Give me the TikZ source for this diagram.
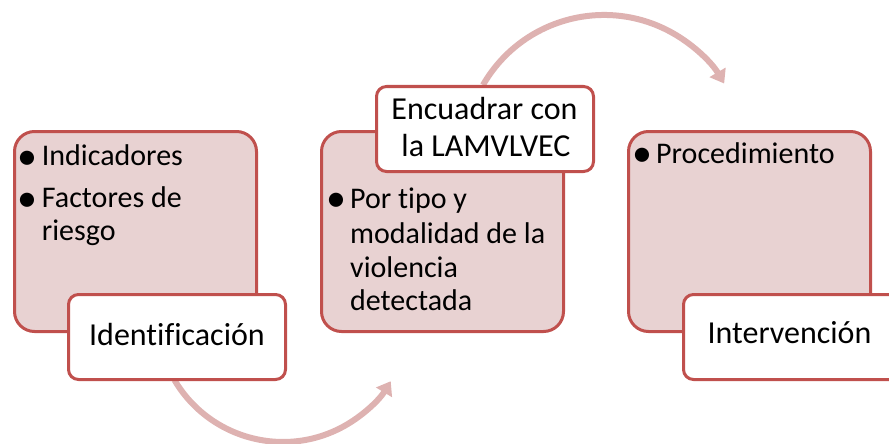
\documentclass[tikz,border=0pt]{standalone}
\usepackage{fontspec}
\setmainfont{Carlito}[Ligatures=NoCommon]
\usetikzlibrary{arrows.meta}
\definecolor{boxfill}{RGB}{232,210,210}
\definecolor{boxline}{RGB}{192,80,77}
\definecolor{arcc}{RGB}{222,178,177}
\begin{document}
\begin{tikzpicture}[x=1pt,y=-1pt,
  bigbox/.style={draw=boxline, fill=boxfill, line width=3pt, rounded corners=20pt,
    inner sep=0pt, outer sep=0pt, anchor=north west, minimum width=242pt, minimum height=200pt},
  labelbox/.style={draw=boxline, fill=white, line width=3pt, rounded corners=10pt,
    inner sep=0pt, outer sep=0pt, anchor=north west, minimum width=217pt, minimum height=85pt},
  flow/.style={draw=arcc, line width=6pt, -{Triangle[width=18pt,length=13pt]}},
  btxt/.style={anchor=base west, inner sep=0pt, font=\fontsize{30}{36}\selectfont},
  bdot/.style={anchor=base west, inner sep=0pt, font=\fontsize{40}{46}\selectfont},
  ltxt/.style={anchor=base, inner sep=0pt, font=\fontsize{32}{37}\selectfont}]
\useasboundingbox (0,0) rectangle (889,444);
% arcs
\coordinate (a1s) at (174.5,380.1);
\coordinate (a2s) at (483,85);
\draw[flow] (a1s) arc[start angle=149.4, end angle=31.2, radius=126];
\draw[flow] (a2s) arc[start angle=209.9, end angle=329.4, radius=139.6];
% big boxes
\node[bigbox] (b1) at (14.5,131.5) {};
\node[bigbox] (b2) at (321.5,131.5) {};
\node[bigbox] (b3) at (628.5,131.5) {};
% label boxes
\node[labelbox] (l1) at (68.5,294.5) {};
\node[labelbox] (l2) at (376.5,86.5) {};
\node[labelbox] (l3) at (683.5,294.5) {};
% box 1 text
\node[bdot] (b1p1) at (17,169) {\textbullet};
\node[btxt] (b1t1) at (41.7,165.7) {Indicadores};
\node[bdot] (b1p2) at (17,211) {\textbullet};
\node[btxt] (b1t2) at (41.7,207.7) {Factores de};
\node[btxt] (b1t3) at (41.7,240) {riesgo};
% box 2 text
\node[bdot] (b2p1) at (326,211.6) {\textbullet};
\node[btxt] (b2t1) at (350,208.3) {Por tipo y};
\node[btxt] (b2t2) at (350,243) {modalidad de la};
\node[btxt] (b2t3) at (350,277) {violencia};
\node[btxt] (b2t4) at (350,310) {detectada};
% box 3 text
\node[bdot] (b3p1) at (632,166.3) {\textbullet};
\node[btxt] (b3t1) at (656,163) {Procedimiento};
% labels
\node[ltxt] (l1t) at (177,345) {Identificación};
\node[ltxt] (l2a) at (484.5,119) {Encuadrar con};
\node[ltxt] (l2b) at (486,156) {la LAMVLVEC};
\node[ltxt] (l3t) at (789.5,343) {Intervención};
\end{tikzpicture}
\end{document}
